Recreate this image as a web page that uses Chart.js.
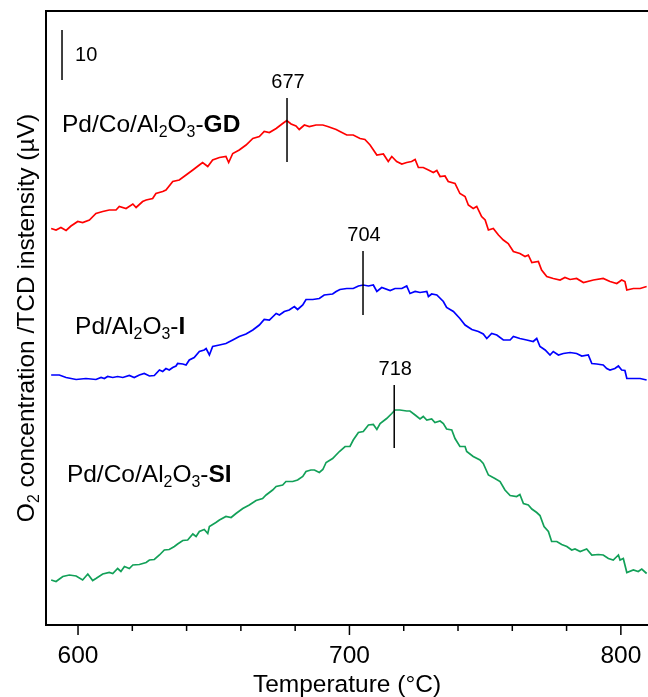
<!DOCTYPE html>
<html>
<head>
<meta charset="utf-8">
<script src="https://cdn.jsdelivr.net/npm/chart.js@4.4.0/dist/chart.umd.min.js"></script>
<style>
  html, body { margin: 0; padding: 0; background: #fff; }
  canvas { display: block; }
</style>
</head>
<body>
<canvas id="tpd" width="648" height="697"></canvas>
<script>
// temperatures (°C) and TCD signal (µV, offset for stacking)
const gdTemp = [590.1, 591.9, 593.7, 595.6, 597.4, 599.9, 601.7, 604.2, 606.6, 609.1, 611.5, 614.0, 615.2, 617.7, 620.2, 621.4, 623.8, 625.1, 627.5, 628.7, 631.2, 632.4, 634.9, 637.3, 639.8, 642.3, 644.7, 645.9, 647.8, 649.6, 652.1, 654.5, 655.5, 657.0, 659.4, 661.9, 664.4, 666.8, 668.6, 670.5, 673.0, 675.4, 676.9, 678.5, 680.3, 681.5, 683.4, 685.2, 687.7, 690.2, 692.0, 695.1, 696.5, 699.0, 701.4, 703.9, 705.7, 707.6, 710.1, 712.5, 714.3, 715.6, 717.4, 719.3, 721.1, 722.9, 724.2, 725.4, 727.2, 729.1, 730.9, 732.2, 733.4, 735.2, 736.4, 738.9, 740.7, 742.6, 743.8, 745.6, 746.9, 748.7, 750.0, 751.2, 753.0, 754.9, 756.7, 758.5, 760.4, 762.8, 764.7, 765.9, 767.2, 769.6, 770.8, 772.7, 775.1, 777.6, 779.4, 781.3, 783.7, 786.2, 789.9, 793.5, 796.0, 798.5, 800.3, 801.5, 802.2, 804.6, 807.1, 809.5];
const gdSignal = [79.3, 79.0, 79.5, 78.9, 79.8, 80.7, 80.5, 81.0, 82.3, 82.7, 83.0, 83.0, 83.7, 83.3, 84.2, 83.5, 84.7, 85.0, 85.3, 86.3, 86.7, 87.0, 88.7, 89.0, 90.0, 91.0, 92.0, 92.5, 91.7, 93.0, 93.5, 93.7, 92.5, 94.3, 95.0, 96.0, 97.3, 97.7, 98.7, 98.5, 99.3, 100.3, 100.9, 100.2, 99.8, 99.1, 100.0, 99.7, 100.0, 100.0, 99.7, 99.1, 98.7, 98.0, 98.0, 97.3, 97.1, 96.0, 94.0, 94.2, 92.7, 93.7, 92.7, 92.2, 92.5, 92.7, 93.1, 91.5, 91.5, 91.0, 90.5, 90.9, 89.7, 89.8, 88.7, 88.3, 86.3, 85.7, 84.0, 83.3, 83.7, 81.7, 81.0, 79.0, 79.3, 78.0, 77.0, 76.3, 74.7, 74.3, 73.7, 74.0, 72.5, 72.7, 71.0, 69.7, 69.3, 69.0, 69.5, 69.1, 69.3, 68.5, 69.0, 69.3, 68.7, 68.3, 69.0, 68.7, 67.0, 67.3, 67.3, 67.7];

const iTemp = [590.1, 593.1, 595.6, 599.3, 602.9, 606.6, 608.5, 609.7, 610.9, 612.8, 614.6, 616.5, 618.9, 620.7, 622.6, 624.4, 626.3, 628.1, 630.0, 631.2, 632.4, 633.6, 634.9, 636.1, 636.7, 638.6, 639.8, 641.0, 642.8, 644.7, 646.5, 647.2, 648.4, 649.6, 652.1, 654.5, 657.0, 659.4, 661.9, 664.4, 666.8, 668.6, 670.5, 673.0, 674.2, 676.0, 677.8, 679.7, 680.9, 682.8, 684.0, 686.5, 688.9, 690.7, 693.8, 695.1, 696.5, 699.0, 701.4, 703.3, 705.1, 707.0, 708.8, 710.1, 711.9, 715.0, 716.8, 719.3, 721.1, 722.3, 724.2, 726.0, 728.5, 729.1, 730.3, 732.2, 734.6, 735.8, 738.3, 740.7, 742.6, 745.1, 747.5, 749.3, 750.6, 752.4, 754.3, 756.7, 759.2, 760.4, 762.8, 765.3, 767.7, 769.0, 770.2, 772.1, 773.9, 775.1, 777.0, 778.8, 781.3, 783.7, 785.6, 788.0, 789.3, 791.1, 793.5, 794.8, 796.0, 797.8, 799.1, 800.3, 801.5, 802.2, 804.6, 807.1, 809.5];
const iSignal = [50.0, 50.0, 49.5, 49.1, 49.3, 49.1, 49.5, 49.3, 49.7, 49.5, 49.7, 49.5, 49.9, 49.5, 50.0, 50.3, 49.8, 49.9, 51.0, 50.7, 51.3, 51.0, 51.5, 51.8, 52.3, 52.2, 52.0, 53.0, 53.5, 54.7, 55.0, 55.3, 54.0, 55.7, 56.0, 56.3, 57.0, 57.7, 58.2, 59.0, 60.0, 61.1, 61.0, 62.3, 62.0, 62.7, 63.0, 63.7, 63.1, 64.0, 65.1, 65.1, 65.3, 66.0, 66.2, 66.7, 67.1, 67.3, 67.3, 67.8, 68.0, 67.8, 68.0, 66.7, 67.5, 66.9, 67.3, 67.3, 67.8, 66.3, 66.7, 66.5, 66.7, 65.7, 66.2, 66.0, 64.7, 63.5, 62.7, 61.3, 60.0, 59.1, 58.7, 58.2, 57.3, 58.3, 58.0, 57.0, 57.0, 57.7, 57.3, 57.0, 56.7, 57.3, 55.7, 55.0, 54.0, 54.7, 54.0, 54.3, 54.5, 54.3, 53.8, 54.0, 52.3, 52.2, 52.0, 51.3, 51.0, 51.3, 51.8, 51.0, 50.9, 49.3, 49.3, 49.3, 49.0];

const siTemp = [590.1, 591.9, 594.4, 596.8, 599.3, 601.7, 603.6, 605.4, 606.6, 609.1, 611.5, 612.8, 614.6, 615.8, 617.1, 618.9, 620.2, 622.6, 625.1, 626.3, 628.1, 630.0, 631.8, 633.6, 635.5, 636.7, 638.6, 640.4, 642.3, 643.5, 644.7, 646.5, 647.8, 648.4, 650.8, 652.1, 654.5, 656.4, 658.2, 660.7, 663.1, 665.6, 668.0, 669.3, 671.7, 673.0, 675.4, 676.6, 679.1, 680.9, 682.8, 684.0, 685.8, 687.1, 688.9, 690.2, 691.4, 693.8, 696.3, 698.4, 700.2, 701.4, 703.3, 705.1, 707.0, 708.8, 710.1, 711.3, 713.7, 715.6, 716.8, 718.6, 721.1, 722.3, 724.2, 726.0, 727.2, 728.5, 730.3, 731.5, 733.4, 734.6, 735.8, 737.7, 738.9, 740.7, 742.6, 743.2, 745.6, 748.1, 749.3, 751.2, 753.6, 755.5, 757.3, 759.2, 761.6, 762.8, 764.1, 765.9, 767.2, 769.0, 770.2, 771.7, 773.3, 774.5, 776.4, 778.2, 780.1, 781.9, 783.1, 785.0, 787.4, 789.3, 791.7, 793.5, 795.4, 797.2, 799.1, 799.7, 800.9, 802.2, 804.6, 806.4, 807.7, 809.5];
const siSignal = [9.0, 8.7, 9.7, 10.0, 9.8, 9.0, 10.2, 8.9, 9.3, 10.2, 10.5, 10.3, 11.3, 10.7, 11.7, 11.3, 12.0, 12.1, 12.5, 13.0, 13.1, 14.0, 15.0, 15.1, 15.7, 16.2, 16.9, 17.0, 18.2, 17.7, 18.7, 19.1, 18.3, 19.7, 20.5, 21.0, 21.7, 21.5, 22.3, 23.3, 24.0, 24.9, 25.3, 26.0, 27.0, 27.7, 28.0, 28.7, 28.7, 29.0, 29.7, 30.7, 31.0, 31.0, 30.5, 31.1, 32.5, 33.3, 34.7, 35.7, 35.7, 37.0, 38.5, 38.7, 40.0, 40.1, 39.1, 40.3, 41.3, 42.3, 43.0, 43.0, 42.8, 42.8, 42.0, 41.2, 41.7, 41.0, 41.2, 40.5, 40.8, 40.3, 39.2, 39.0, 37.3, 35.7, 35.7, 34.7, 33.7, 33.0, 32.3, 30.0, 29.3, 28.7, 27.0, 25.9, 25.7, 26.1, 24.3, 24.0, 23.2, 22.5, 21.9, 19.7, 18.7, 16.7, 16.7, 16.1, 15.7, 15.0, 15.2, 14.7, 15.2, 14.0, 14.1, 14.0, 13.3, 13.0, 14.0, 13.0, 13.3, 10.5, 11.0, 10.7, 11.2, 10.3];

// peak markers: label, position, vertical extent (signal units)
const peakLabels = ['677', '704', '718'];
const peakTemps = [677, 705, 716.5];
const peakLow = [92.6, 62.0, 35.4];
const peakHigh = [105.4, 74.8, 48.0];

const xMajor = [600, 700, 800];
const xMinorStep = 20;
const scaleBar = 10;

const sampleNames = [
  [['Pd/Co/Al', ''], ['2', 'sub'], ['O', ''], ['3', 'sub'], ['-', ''], ['GD', 'bold']],
  [['Pd/Al', ''], ['2', 'sub'], ['O', ''], ['3', 'sub'], ['-', ''], ['I', 'bold']],
  [['Pd/Co/Al', ''], ['2', 'sub'], ['O', ''], ['3', 'sub'], ['-', ''], ['SI', 'bold']]
];
const sampleAt = [[594.1, 100], [598.9, 59.6], [595.9, 30]];
const yTitle = [['O', ''], ['2', 'sub'], [' concentration /TCD instensity (µV)', '']];

const FONT = '"Liberation Sans", Arial, sans-serif';
const BIG = 24.5;

function toPoints(xs, ys) {
  return xs.map((x, i) => ({ x, y: ys[i] }));
}

function richWidth(ctx, parts, size) {
  let w = 0;
  parts.forEach(([t, s]) => {
    const fs = s === 'sub' ? size * 0.65 : size;
    ctx.font = (s === 'bold' ? 'bold ' : '') + fs + 'px ' + FONT;
    w += ctx.measureText(t).width;
  });
  return w;
}

function drawRich(ctx, parts, x, y, size) {
  let cx = x;
  parts.forEach(([t, s]) => {
    const fs = s === 'sub' ? size * 0.65 : size;
    ctx.font = (s === 'bold' ? 'bold ' : '') + fs + 'px ' + FONT;
    ctx.fillText(t, cx, s === 'sub' ? y + size * 0.3 : y);
    cx += ctx.measureText(t).width;
  });
}

const frame = {
  id: 'frame',
  afterDatasetsDraw(chart) {
    const { ctx, chartArea: a, scales: { x, y } } = chart;
    ctx.save();
    ctx.strokeStyle = '#000';
    ctx.fillStyle = '#000';

    // axes box (left, top, bottom)
    ctx.lineWidth = 2;
    ctx.beginPath();
    ctx.moveTo(a.right + 5, a.top);
    ctx.lineTo(a.left, a.top);
    ctx.lineTo(a.left, a.bottom);
    ctx.lineTo(a.right + 5, a.bottom);
    ctx.stroke();

    // tick marks
    ctx.lineWidth = 1.5;
    for (let v = 600; v <= x.max; v += xMinorStep) {
      const px = x.getPixelForValue(v);
      const len = xMajor.includes(v) ? 10 : 6;
      ctx.beginPath();
      ctx.moveTo(px, a.bottom);
      ctx.lineTo(px, a.bottom + len);
      ctx.stroke();
    }

    // peak markers
    ctx.textAlign = 'center';
    ctx.textBaseline = 'middle';
    ctx.font = '20px ' + FONT;
    peakLabels.forEach((lab, i) => {
      const px = x.getPixelForValue(peakTemps[i]);
      const top = y.getPixelForValue(peakHigh[i]);
      ctx.beginPath();
      ctx.moveTo(px, top);
      ctx.lineTo(px, y.getPixelForValue(peakLow[i]));
      ctx.stroke();
      ctx.fillText(lab, px + 1, top - 16);
    });

    // scale bar
    const sbx = x.getPixelForValue(594.1);
    ctx.beginPath();
    ctx.moveTo(sbx, y.getPixelForValue(119));
    ctx.lineTo(sbx, y.getPixelForValue(119 - scaleBar));
    ctx.stroke();
    ctx.textAlign = 'left';
    ctx.fillText(String(scaleBar), sbx + 13, y.getPixelForValue(119 - scaleBar / 2));

    // sample names
    sampleNames.forEach((parts, i) => {
      drawRich(ctx, parts, x.getPixelForValue(sampleAt[i][0]), y.getPixelForValue(sampleAt[i][1]), BIG);
    });

    // y axis title
    const w = richWidth(ctx, yTitle, BIG);
    ctx.translate(27, (a.top + a.bottom) / 2);
    ctx.rotate(-Math.PI / 2);
    drawRich(ctx, yTitle, -w / 2, 0, BIG);
    ctx.restore();
  }
};

new Chart(document.getElementById('tpd'), {
  type: 'line',
  data: {
    datasets: [
      { label: 'Pd/Co/Al2O3-GD', data: toPoints(gdTemp, gdSignal), borderColor: '#ff0000' },
      { label: 'Pd/Al2O3-I', data: toPoints(iTemp, iSignal), borderColor: '#0000ff' },
      { label: 'Pd/Co/Al2O3-SI', data: toPoints(siTemp, siSignal), borderColor: '#12a058' }
    ]
  },
  options: {
    responsive: false,
    animation: false,
    layout: { padding: { left: 46, top: 11, right: 0, bottom: 0 } },
    elements: {
      line: { borderWidth: 1.7, tension: 0, fill: false },
      point: { radius: 0 }
    },
    plugins: { legend: { display: false }, tooltip: { enabled: false } },
    scales: {
      x: {
        type: 'linear',
        min: 588.2,
        max: 810,
        afterBuildTicks: s => { s.ticks = xMajor.map(v => ({ value: v })); },
        afterFit: s => { s.height = 72; s.paddingLeft = 0; s.paddingRight = 0; },
        grid: { display: false },
        border: { display: false },
        ticks: { color: '#000', font: { size: BIG, family: FONT }, padding: 9, maxRotation: 0, autoSkip: false },
        title: { display: true, text: 'Temperature (°C)', color: '#000', font: { size: BIG, family: FONT }, padding: { top: 0, bottom: -3 } }
      },
      y: { display: false, min: 0, max: 122.8 }
    }
  },
  plugins: [frame]
});
</script>
</body>
</html>
